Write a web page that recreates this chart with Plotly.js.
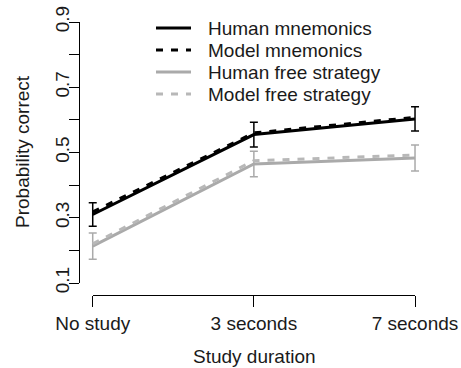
<!DOCTYPE html>
<html>
<head>
<meta charset="utf-8">
<script src="https://cdn.plot.ly/plotly-3.0.1.min.js"></script>
<style>html,body{margin:0;padding:0;background:#fff;}#chart{width:461px;height:368px;}</style>
</head>
<body>
<div id="chart"></div>
<script>
var categories = ['No study', '3 seconds', '7 seconds'];
var positions = [1, 2, 3];
var humanMnemonics = [0.310, 0.555, 0.603];
var humanMnemonicsErr = [0.036, 0.038, 0.037];
var modelMnemonics = [0.318, 0.560, 0.608];
var humanFree = [0.213, 0.465, 0.483];
var humanFreeErr = [0.040, 0.039, 0.040];
var modelFree = [0.220, 0.475, 0.492];
var yTicks = [0.1, 0.2, 0.3, 0.4, 0.5, 0.6, 0.7, 0.8, 0.9];
var yTickText = ['0.1', '', '0.3', '', '0.5', '', '0.7', '', '0.9'];
var seriesNames = ['Human mnemonics', 'Model mnemonics', 'Human free strategy', 'Model free strategy'];

var FONT = 'Liberation Sans, Arial, Helvetica, sans-serif';
var TXT = '#1a1a1a';
var BLACK = '#000000';
var GREY = '#aaaaaa';
var LGREY = '#b8b8b8';
var DASH = '7px,8px';
var styles = [
  {color: BLACK, width: 3, dash: 'solid'},
  {color: BLACK, width: 3, dash: DASH},
  {color: GREY, width: 3, dash: 'solid'},
  {color: LGREY, width: 3, dash: DASH}
];

var traces = [
  {x: positions, y: humanMnemonics, name: seriesNames[0], mode: 'lines', line: styles[0],
   error_y: {type: 'data', array: humanMnemonicsErr, color: BLACK, thickness: 1.5, width: 4}},
  {x: positions, y: modelMnemonics, name: seriesNames[1], mode: 'lines', line: styles[1]},
  {x: positions, y: humanFree, name: seriesNames[2], mode: 'lines', line: styles[2],
   error_y: {type: 'data', array: humanFreeErr, color: GREY, thickness: 1.5, width: 4}},
  {x: positions, y: modelFree, name: seriesNames[3], mode: 'lines', line: styles[3]},
  {x: positions, y: positions.map(function(){return null;}), xaxis: 'x2', yaxis: 'y2',
   mode: 'markers', showlegend: false, hoverinfo: 'skip'}
];

// legend drawn as shapes + annotations (R-style compact legend)
var legendRows = [28, 50, 72, 94];
var shapes = [];
var annotations = [];
seriesNames.forEach(function(name, i){
  var yy = 1 - legendRows[i]/368;
  shapes.push({type: 'line', xref: 'paper', yref: 'paper', x0: 156/461, x1: 191/461, y0: yy, y1: yy,
               line: {color: styles[i].color, width: 3, dash: styles[i].dash}});
  annotations.push({text: name, xref: 'paper', yref: 'paper', x: 206/461, y: yy,
                    xanchor: 'left', yanchor: 'middle', showarrow: false,
                    font: {family: FONT, size: 19, color: TXT}});
});
annotations.push({text: 'Study duration', xref: 'paper', yref: 'paper', x: 254/461, y: 1 - 356/368,
     xanchor: 'center', yanchor: 'middle', showarrow: false,
     font: {family: FONT, size: 19, color: TXT}});
annotations.push({text: 'Probability correct', xref: 'paper', yref: 'paper', x: 22/461, y: 1 - 152/368,
     xanchor: 'center', yanchor: 'middle', showarrow: false, textangle: -90,
     font: {family: FONT, size: 19, color: TXT}});

var yDomain = [(368-283)/368, (368-22)/368];
var layout = {
  width: 461, height: 368,
  margin: {l: 0, r: 0, t: 0, b: 0},
  paper_bgcolor: '#ffffff', plot_bgcolor: 'rgba(0,0,0,0)',
  font: {family: FONT, size: 19, color: TXT},
  showlegend: false,
  xaxis: {domain: [70/461, 440/461], range: [0.859, 3.155],
          showline: false, showgrid: false, zeroline: false, showticklabels: false, ticks: ''},
  xaxis2: {domain: [92.7/461, 415/461], range: [1, 3], anchor: 'free', position: (368-295)/368,
           showline: true, linecolor: BLACK, linewidth: 1, showgrid: false, zeroline: false,
           ticks: 'outside', ticklen: 11, tickwidth: 1, tickcolor: BLACK,
           tickvals: positions, ticktext: categories,
           tickfont: {family: FONT, size: 19, color: TXT}},
  yaxis: {domain: yDomain, range: [0.1, 0.9], anchor: 'free', position: 79/461,
          showline: true, linecolor: BLACK, linewidth: 1, showgrid: false, zeroline: false,
          ticks: 'outside', ticklen: 10, tickwidth: 1, tickcolor: BLACK,
          tickvals: yTicks, showticklabels: false},
  yaxis2: {domain: yDomain, range: [0.1, 0.9], anchor: 'free', position: 79/461,
          showline: false, showgrid: false, zeroline: false,
          ticks: 'outside', ticklen: 2, tickwidth: 1, tickcolor: 'rgba(0,0,0,0)',
          tickvals: yTicks, ticktext: yTickText, tickangle: -90,
          tickfont: {family: FONT, size: 19, color: TXT}},
  shapes: shapes,
  annotations: annotations
};

Plotly.newPlot('chart', traces, layout, {staticPlot: true, displayModeBar: false});
</script>
</body>
</html>
